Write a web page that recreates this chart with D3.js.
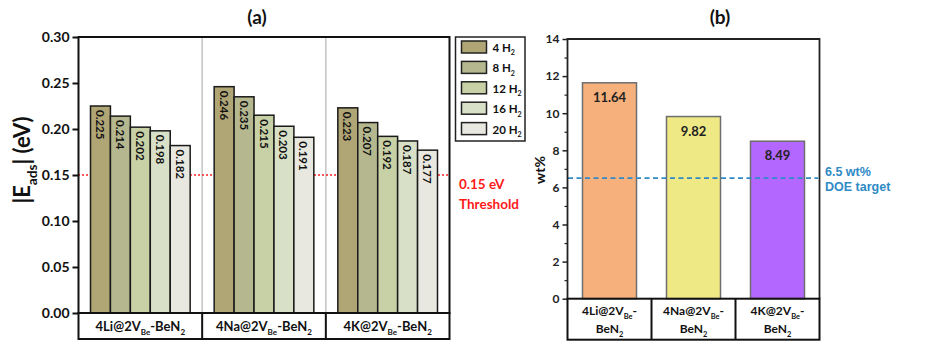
<!DOCTYPE html>
<html>
<head>
<meta charset="utf-8">
<script src="https://cdn.jsdelivr.net/npm/d3@7"></script>
<style>
  body { margin: 0; background: #fff; }
  svg { display: block; font-family: Lato, "Open Sans", sans-serif; }
</style>
</head>
<body>
<div id="chart"></div>
<script>
// data
var metals = ["4Li", "4Na", "4K"];
var loads = ["4", "8", "12", "16", "20"];
var eadsLi = [0.225, 0.214, 0.202, 0.198, 0.182];
var eadsNa = [0.246, 0.235, 0.215, 0.203, 0.191];
var eadsK = [0.223, 0.207, 0.192, 0.187, 0.177];
var wtValues = [11.64, 9.82, 8.49];
var ticksA = [0, 0.05, 0.10, 0.15, 0.20, 0.25, 0.30];
var ticksB = [0, 2, 4, 6, 8, 10, 12, 14];
var threshold = 0.15;
var doeTarget = 6.5;

var loadColors = ["#b0a575", "#b5b78f", "#c8d0a6", "#d8e1c8", "#e8e8e0"];
var wtColors = ["#f5b07b", "#efe985", "#b367fe"];

var svg = d3.select("#chart").append("svg")
    .attr("width", 932).attr("height", 364);

// write text with subscripts: parts = [[str, isSub], ...]
function subText(t, parts, size) {
  var sub = false;
  parts.forEach(function (p) {
    var ts = t.append("tspan").text(p[0]);
    if (p[1] && !sub) { ts.attr("dy", size * 0.3).style("font-size", (size * 0.62) + "px"); sub = true; }
    else if (p[1]) { ts.style("font-size", (size * 0.62) + "px"); }
    else if (sub) { ts.attr("dy", -size * 0.3); sub = false; }
  });
}

// ---------- panel (a) ----------
var eads = [eadsLi, eadsNa, eadsK];

var yA = d3.scaleLinear().domain([0, 0.30]).range([313, 37]);
var x0 = d3.scaleBand().domain(metals).range([78.5, 449.5]);
var x1 = d3.scaleBand().domain(loads).range([12, x0.bandwidth() - 12]);

var gA = svg.append("g");

// group dividers
gA.selectAll(".div").data(metals.slice(1)).enter().append("line")
    .attr("x1", d => x0(d)).attr("x2", d => x0(d))
    .attr("y1", 37).attr("y2", 313)
    .attr("stroke", "#c4c4c4").attr("stroke-width", 1.5);

// threshold line
gA.append("line")
    .attr("x1", 78).attr("x2", 450)
    .attr("y1", yA(threshold)).attr("y2", yA(threshold))
    .attr("stroke", "#ff2020").attr("stroke-width", 1.6)
    .attr("stroke-dasharray", "2,2");

var groups = gA.selectAll(".grp").data(metals).enter().append("g")
    .attr("transform", d => "translate(" + x0(d) + ",0)");

groups.selectAll("rect")
    .data((d, i) => eads[i].map((v, j) => ({ v: v, k: loads[j], c: loadColors[j] })))
    .enter().append("rect")
    .attr("x", d => x1(d.k))
    .attr("y", d => yA(d.v))
    .attr("width", x1.bandwidth())
    .attr("height", d => yA(0) - yA(d.v))
    .attr("fill", d => d.c)
    .attr("stroke", "#1a1a1a").attr("stroke-width", 1.5);

groups.selectAll(".val")
    .data((d, i) => eads[i].map((v, j) => ({ v: v, k: loads[j] })))
    .enter().append("text")
    .attr("transform", d => "translate(" + (x1(d.k) + x1.bandwidth() / 2 - 4.5) + "," + (yA(d.v) + 4) + ") rotate(90)")
    .attr("font-size", 11.5).attr("font-weight", "bold").attr("fill", "#111")
    .text(d => d.v.toFixed(3));

// frame
gA.append("rect").attr("x", 78.5).attr("y", 37).attr("width", 371).attr("height", 276)
    .attr("fill", "none").attr("stroke", "#111").attr("stroke-width", 2);

// y axis
var axA = gA.append("g").attr("transform", "translate(78.5,0)")
    .call(d3.axisLeft(yA).tickValues(ticksA).tickFormat(d3.format(".2f")).tickSize(6).tickSizeOuter(0));
axA.select(".domain").remove();
axA.selectAll("line").attr("stroke", "#111").attr("stroke-width", 2);
axA.selectAll("text").attr("font-size", 14).attr("font-weight", "bold")
    .attr("font-family", "Lato, sans-serif").attr("fill", "#111").attr("x", -9);

// category boxes
gA.append("rect").attr("x", 78.5).attr("y", 313).attr("width", 371).attr("height", 26)
    .attr("fill", "none").attr("stroke", "#111").attr("stroke-width", 2);
gA.selectAll(".cdiv").data(metals.slice(1)).enter().append("line")
    .attr("x1", d => x0(d)).attr("x2", d => x0(d)).attr("y1", 313).attr("y2", 339)
    .attr("stroke", "#111").attr("stroke-width", 2);
gA.selectAll(".cat").data(metals).enter().append("text")
    .attr("x", d => x0(d) + x0.bandwidth() / 2).attr("y", 331)
    .attr("text-anchor", "middle").attr("font-size", 13).attr("font-weight", "bold").attr("fill", "#111")
    .each(function (d) { subText(d3.select(this), [[d + "@2V", false], ["Be", true], ["-BeN", false], ["2", true]], 13); });

// y label
var yl = gA.append("text").attr("transform", "translate(30,160) rotate(-90)")
    .attr("text-anchor", "middle").attr("font-size", 22).attr("font-weight", "bold").attr("fill", "#111");
subText(yl, [["|E", false], ["ads", true], ["| (eV)", false]], 22);

// title
gA.append("text").attr("x", 257).attr("y", 24).attr("text-anchor", "middle")
    .attr("font-size", 19).attr("font-weight", "bold").attr("fill", "#111").text("(a)");

// threshold text
gA.append("text").attr("x", 459).attr("y", 189).attr("font-size", 13.5).attr("font-weight", "bold")
    .attr("fill", "#ff1a1a").text("0.15 eV");
gA.append("text").attr("x", 459).attr("y", 209).attr("font-size", 13.5).attr("font-weight", "bold")
    .attr("fill", "#ff1a1a").text("Threshold");

// legend
var leg = gA.append("g").attr("transform", "translate(455.5,37)");
leg.append("rect").attr("width", 69.5).attr("height", 104)
    .attr("fill", "#fff").attr("stroke", "#222").attr("stroke-width", 1.5);
var li = leg.selectAll(".li").data(loads).enter().append("g")
    .attr("transform", (d, i) => "translate(6," + (4 + i * 20.4) + ")");
li.append("rect").attr("width", 25).attr("height", 12)
    .attr("fill", (d, i) => loadColors[i]).attr("stroke", "#222").attr("stroke-width", 1.5);
li.append("text").attr("x", 31).attr("y", 11).attr("font-size", 11.5).attr("font-weight", "bold").attr("fill", "#111")
    .each(function (d) { subText(d3.select(this), [[d + " H", false], ["2", true]], 11.5); });

// ---------- panel (b) ----------
var yB = d3.scaleLinear().domain([0, 14]).range([298.7, 39]);
var xB = d3.scaleBand().domain(metals).range([567.5, 819.5]).paddingInner(0.357).paddingOuter(0.1785);
var xBox = d3.scaleBand().domain(metals).range([567.5, 819.5]);

var gB = svg.append("g");

gB.selectAll(".bar").data(wtValues).enter().append("rect")
    .attr("x", (d, i) => xB(metals[i]))
    .attr("y", d => yB(d))
    .attr("width", xB.bandwidth())
    .attr("height", d => yB(0) - yB(d))
    .attr("fill", (d, i) => wtColors[i])
    .attr("stroke", "#6e6e6e").attr("stroke-width", 1.5);

gB.selectAll(".wv").data(wtValues).enter().append("text")
    .attr("x", (d, i) => xB(metals[i]) + xB.bandwidth() / 2)
    .attr("y", d => yB(d) + 19)
    .attr("text-anchor", "middle").attr("font-size", 13).attr("font-weight", "bold").attr("fill", "#222")
    .text(d => d.toFixed(2));

// DOE line
gB.append("line").attr("x1", 568).attr("x2", 818)
    .attr("y1", yB(doeTarget)).attr("y2", yB(doeTarget))
    .attr("stroke", "#2f8ac6").attr("stroke-width", 1.8).attr("stroke-dasharray", "5,3.5");
gB.append("text").attr("x", 825).attr("y", 176).attr("font-size", 12.5).attr("font-weight", "bold")
    .attr("font-family", "'Liberation Sans', Arial, sans-serif").attr("fill", "#2f8ac6").text("6.5 wt%");
gB.append("text").attr("x", 825).attr("y", 191).attr("font-size", 12.5).attr("font-weight", "bold")
    .attr("font-family", "'Liberation Sans', Arial, sans-serif").attr("fill", "#2f8ac6").text("DOE target");

// frame: top and right, left axis
gB.append("path").attr("d", "M567.5,298.7V39H819.5V298.7")
    .attr("fill", "none").attr("stroke", "#222").attr("stroke-width", 1.8);

var axB = gB.append("g").attr("transform", "translate(567.5,0)")
    .call(d3.axisLeft(yB).tickValues(ticksB).tickSize(5).tickSizeOuter(0));
axB.select(".domain").remove();
axB.selectAll("line").attr("stroke", "#222").attr("stroke-width", 1.5);
axB.selectAll("text").attr("font-size", 12).attr("font-weight", "bold")
    .attr("font-family", "Lato, sans-serif").attr("fill", "#222").attr("x", -8);
gB.append("g").attr("transform", "translate(567.5,0)")
    .call(d3.axisLeft(yB).tickValues(d3.range(1, 14, 2)).tickSize(3).tickFormat(""))
    .call(g => g.select(".domain").remove())
    .selectAll("line").attr("stroke", "#222").attr("stroke-width", 1.2);

// category boxes
gB.append("rect").attr("x", 567.5).attr("y", 298.7).attr("width", 252).attr("height", 41)
    .attr("fill", "none").attr("stroke", "#111").attr("stroke-width", 2);
gB.selectAll(".cdivb").data(metals.slice(1)).enter().append("line")
    .attr("x1", d => xBox(d)).attr("x2", d => xBox(d)).attr("y1", 298.7).attr("y2", 339.7)
    .attr("stroke", "#111").attr("stroke-width", 2);
var catB = gB.selectAll(".catb").data(metals).enter().append("g");
catB.append("text")
    .attr("x", d => xBox(d) + xBox.bandwidth() / 2).attr("y", 315)
    .attr("text-anchor", "middle").attr("font-size", 12).attr("font-weight", "bold").attr("fill", "#111")
    .each(function (d) { subText(d3.select(this), [[d + "@2V", false], ["Be", true], ["-", false]], 12); });
catB.append("text")
    .attr("x", d => xBox(d) + xBox.bandwidth() / 2).attr("y", 333)
    .attr("text-anchor", "middle").attr("font-size", 12).attr("font-weight", "bold").attr("fill", "#111")
    .each(function (d) { subText(d3.select(this), [["BeN", false], ["2", true]], 12); });

// y label
gB.append("text").attr("transform", "translate(545,170) rotate(-90)")
    .attr("text-anchor", "middle").attr("font-size", 14).attr("font-weight", "bold").attr("fill", "#111")
    .text("wt%");

// title
gB.append("text").attr("x", 720).attr("y", 24).attr("text-anchor", "middle")
    .attr("font-size", 19).attr("font-weight", "bold").attr("fill", "#111").text("(b)");
</script>
</body>
</html>
